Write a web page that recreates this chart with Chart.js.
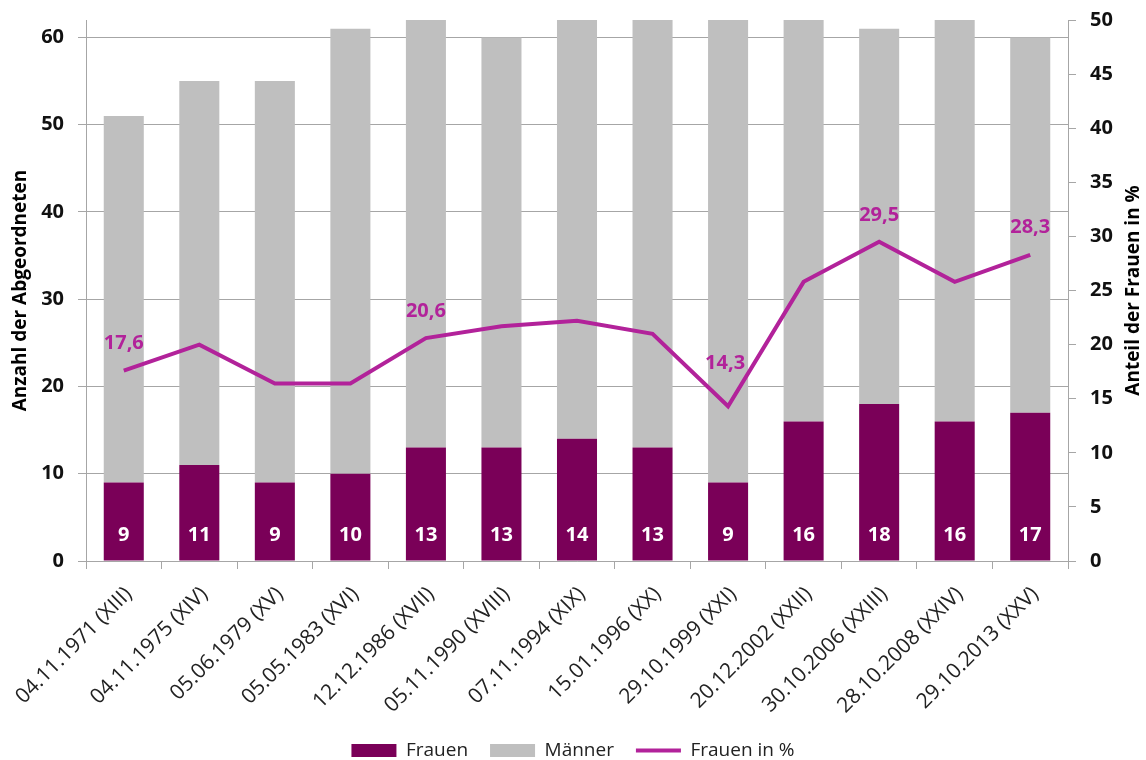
<!DOCTYPE html>
<html lang="de">
<head>
<meta charset="utf-8">
<title>Frauen im Nationalratsklub</title>
<script src="https://cdn.jsdelivr.net/npm/chart.js@4"></script>
<style>
    html, body { margin: 0; padding: 0; background: #fff; }
    #box { position: relative; width: 1146px; height: 760px; }
</style>
</head>
<body>
<div id="box"><canvas id="frauenChart"></canvas></div>
<script>
// Werte aus der Vorlage
const categories = [
    '04.11.1971 (XIII)', '04.11.1975 (XIV)', '05.06.1979 (XV)', '05.05.1983 (XVI)',
    '12.12.1986 (XVII)', '05.11.1990 (XVIII)', '07.11.1994 (XIX)', '15.01.1996 (XX)',
    '29.10.1999 (XXI)', '20.12.2002 (XXII)', '30.10.2006 (XXIII)', '28.10.2008 (XXIV)',
    '29.10.2013 (XXV)'
];
const frauen = [9, 11, 9, 10, 13, 13, 14, 13, 9, 16, 18, 16, 17];
const maenner = [42, 44, 46, 51, 50, 47, 49, 49, 54, 46, 43, 46, 43];
const frauenProzent = [17.6, 20.0, 16.4, 16.4, 20.6, 21.7, 22.2, 21.0, 14.3, 25.8, 29.5, 25.8, 28.3];
// nur diese Punkte haben in der Vorlage eine Beschriftung
const beschriftetIdx = [0, 4, 8, 10, 12];
const linksTicks = [0, 10, 20, 30, 40, 50, 60];

const LILA = '#7a0058';
const GRAU = '#bfbfbf';
const PINK = '#b2229a';
const FONT = '"Open Sans", Lato, sans-serif';

const beschriftung = {
    id: 'beschriftung',
    afterDatasetsDraw(chart) {
        const ctx = chart.ctx;
        ctx.save();
        ctx.textAlign = 'center';
        ctx.textBaseline = 'middle';

        ctx.font = 'bold 20px ' + FONT;
        ctx.fillStyle = '#ffffff';
        chart.getDatasetMeta(0).data.forEach((bar, i) => {
            ctx.fillText(String(frauen[i]), bar.x, bar.base - 25);
        });

        // Excel setzt das Etikett im Tal (1999) etwas höher
        ctx.fillStyle = PINK;
        const punkte = chart.getDatasetMeta(2).data;
        beschriftetIdx.forEach(i => {
            const txt = frauenProzent[i].toFixed(1).replace('.', ',');
            const dy = frauenProzent[i] < 15 ? 43 : 27;
            ctx.fillText(txt, punkte[i].x - (dy > 30 ? 3 : 0), punkte[i].y - dy);
        });
        ctx.restore();
    },
    afterDraw(chart) {
        // rechter Achsentitel liest von unten nach oben
        const ctx = chart.ctx;
        const area = chart.chartArea;
        ctx.save();
        ctx.translate(1134, (area.top + area.bottom) / 2);
        ctx.rotate(-Math.PI / 2);
        ctx.textAlign = 'center';
        ctx.textBaseline = 'middle';
        ctx.font = 'bold 19px ' + FONT;
        ctx.fillStyle = '#000';
        ctx.fillText('Anteil der Frauen in %', 0, 0);
        ctx.restore();
    }
};

const ohnePolster = s => { s.paddingTop = 0; s.paddingBottom = 0; };

const ctx = document.getElementById('frauenChart').getContext('2d');
new Chart(ctx, {
    type: 'bar',
    data: {
        labels: categories,
        datasets: [
            {
                label: 'Frauen',
                data: frauen,
                backgroundColor: LILA,
                yAxisID: 'y',
                stack: 'a',
                order: 1,
                barPercentage: 0.53,
                categoryPercentage: 1,
                pointStyle: 'rect'
            },
            {
                label: 'Männer',
                data: maenner,
                backgroundColor: GRAU,
                yAxisID: 'y',
                stack: 'a',
                order: 1,
                barPercentage: 0.53,
                categoryPercentage: 1,
                pointStyle: 'rect'
            },
            {
                type: 'line',
                label: 'Frauen in %',
                data: frauenProzent,
                borderColor: PINK,
                backgroundColor: PINK,
                borderWidth: 4,
                pointRadius: 0,
                pointHoverRadius: 0,
                tension: 0,
                yAxisID: 'y2',
                order: 0,
                pointStyle: 'line'
            }
        ]
    },
    options: {
        responsive: true,
        maintainAspectRatio: false,
        animation: false,
        layout: { padding: { top: 20, bottom: -10, left: 0, right: 0 } },
        plugins: {
            tooltip: { enabled: false },
            legend: {
                position: 'bottom',
                labels: {
                    usePointStyle: true,
                    pointStyleWidth: 45,
                    boxWidth: 45,
                    boxHeight: 13,
                    padding: 22,
                    color: '#222',
                    font: { family: FONT, size: 19 },
                    sort: (a, b) => a.datasetIndex - b.datasetIndex
                }
            }
        },
        scales: {
            x: {
                stacked: true,
                offset: true,
                grid: { drawOnChartArea: false, offset: true, tickLength: 8, color: '#a6a6a6' },
                border: { color: '#a6a6a6' },
                ticks: {
                    minRotation: 45,
                    maxRotation: 45,
                    padding: 13,
                    labelOffset: 5,
                    color: '#222',
                    font: { family: FONT, size: 21 }
                },
                afterFit: s => { s.height = 158; s.paddingLeft = 0; s.paddingRight = 0; }
            },
            y: {
                stacked: true,
                position: 'left',
                min: 0,
                max: 62,
                grid: { color: '#a6a6a6', tickLength: 8 },
                border: { color: '#a6a6a6' },
                ticks: {
                    stepSize: 10,
                    includeBounds: false,
                    padding: 14,
                    color: '#111',
                    font: { family: FONT, size: 20, weight: 'bold' },
                    callback: v => (linksTicks.includes(v) ? v : '')
                },
                title: {
                    display: true,
                    text: 'Anzahl der Abgeordneten',
                    color: '#000',
                    padding: { top: 9, bottom: 0 },
                    font: { family: FONT, size: 19, weight: 'bold' }
                },
                afterFit: s => { s.width = 86; ohnePolster(s); }
            },
            y2: {
                position: 'right',
                min: 0,
                max: 50,
                grid: { drawOnChartArea: false, color: '#a6a6a6', tickLength: 8 },
                border: { color: '#a6a6a6' },
                ticks: {
                    stepSize: 5,
                    padding: 14,
                    color: '#111',
                    font: { family: FONT, size: 20, weight: 'bold' }
                },
                afterFit: s => { s.width = 78; ohnePolster(s); }
            }
        }
    },
    plugins: [beschriftung]
});
</script>
</body>
</html>
